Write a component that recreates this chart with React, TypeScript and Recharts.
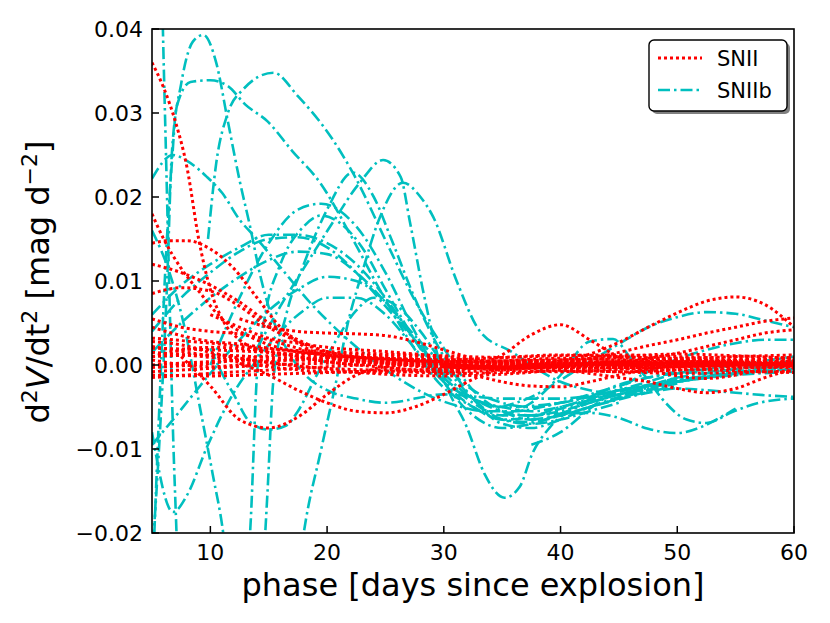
import { LineChart, Line, XAxis, YAxis } from "recharts";

type Pt = [number, number];

const phaseTicks = [10, 20, 30, 40, 50, 60];
const slopeTicks = [-0.02, -0.01, 0, 0.01, 0.02, 0.03, 0.04];

// SNIIb: steep curves at early phase
const snIIbEarly: Pt[][] = [
  [[5.5, 0.07], [5.9, 0.042], [6.2, 0.025], [6.5, 0.008], [6.8, -0.008], [7.1, -0.02], [7.4, -0.032]],
  [[5.1, -0.021], [5.6, -0.01], [6.3, 0.01], [6.7, 0.0252], [7.5, 0.0335], [8.5, 0.0385], [9.4, 0.0393], [10.5, 0.036], [11.5, 0.029], [12.5, 0.022], [13.4, 0.0165], [14.3, 0.0105], [15, 0.0069], [16.5, 0.002], [18, -0.001], [20, -0.003], [22.5, -0.004], [25, -0.0045], [30, -0.0035], [35, -0.004], [40, -0.004], [45, -0.003], [50, -0.002], [55, -0.001], [60, 0]],
  [[5.2, -0.02], [5.6, -0.006], [6.2, 0.013], [6.7, 0.024], [7.1, 0.0307], [8.3, 0.0337], [10, 0.0339], [11.5, 0.0332], [13, 0.031], [14.9, 0.029], [17, 0.0255], [19.4, 0.0217], [22, 0.0155], [24.5, 0.009], [27, 0.003], [29.5, -0.002], [32.5, -0.005], [35, -0.0065], [37.5, -0.0062], [40, -0.0052], [42.5, -0.0042], [45, -0.0032], [47.5, -0.0024], [50, -0.0018], [55, -0.001]],
  [[5, 0.0222], [6.8, 0.025], [8, 0.0243], [9.7, 0.0224], [11, 0.0205], [12.5, 0.0173], [14, 0.015], [16.2, 0.0113], [18.5, 0.0075], [21, 0.004], [23.5, 0.001], [26, -0.0015], [28.5, -0.0035], [31, -0.0048], [33.5, -0.0055], [36, -0.0055], [40, -0.0045], [45, -0.003], [50, -0.0018], [55, -0.0008], [60, 0]],
  [[5, -0.008], [6.8, -0.0175], [8, -0.0155], [9.7, -0.0098], [12, -0.0033], [14, 0.0006], [16, 0.004], [18, 0.0065], [20, 0.008], [22.5, 0.008], [25, 0.006], [27.5, 0.002], [30, -0.002], [32.5, -0.004], [35, -0.005], [40, -0.0045], [45, -0.003], [50, -0.002], [55, -0.001], [60, 0.0005]],
  [[5, -0.0095], [6.5, -0.007], [10, -0.001], [12.5, 0.003], [15, 0.0065], [17.5, 0.009], [20, 0.0105], [22.5, 0.01], [25, 0.0075], [27.5, 0.003], [30, -0.0015], [32.5, -0.0045], [35, -0.006], [37.5, -0.006], [40, -0.005], [45, -0.0035], [50, -0.002], [55, -0.001], [60, -0.0005]],
  [[5, 0.016], [6.5, 0.011], [7.7, 0.005], [9.1, -0.005], [10.2, -0.013], [11.1, -0.02], [11.6, -0.026]],
];

// SNIIb: humps peaking between phase 15 and 27
const snIIbPeaks: Pt[][] = [
  [[9.8, 0.015], [10.5, 0.024], [11.5, 0.03], [12.8, 0.0328], [15.4, 0.0348], [17.5, 0.032], [20.5, 0.0268], [22.2, 0.0229], [25.4, 0.0137], [27.4, 0.008], [30, 0.002], [32.5, -0.003], [35, -0.0055], [37.5, -0.0065], [40, -0.006], [42.5, -0.005], [45, -0.004], [47.5, -0.0032], [50, -0.0025]],
  [[14, 0.002], [16, 0.007], [18, 0.0115], [20.5, 0.017], [22.8, 0.0217], [24.8, 0.0244], [26.3, 0.0224], [27.1, 0.017], [28.2, 0.009], [30, -0.0015], [32, -0.0075], [33.5, -0.013], [35.2, -0.0158], [36.5, -0.0145], [37.6, -0.0105], [39.1, -0.0074], [42, -0.0045], [44.5, -0.0026], [47.5, -0.0015], [50, -0.0008], [52.5, -0.0004]],
  [[17.5, -0.025], [18, -0.02], [19.5, -0.01], [20.8, -0.0018], [21.7, 0.0045], [23, 0.011], [24.5, 0.0175], [26.5, 0.0217], [28, 0.02], [29.1, 0.0176], [31.1, 0.01], [33.1, 0.004], [35.9, 0.0015], [38, -0.0005], [40, -0.002], [42.5, -0.003], [45, -0.0035], [47.5, -0.003], [50, -0.002], [55, -0.001], [60, -0.0005]],
  [[14.5, -0.025], [14.9, -0.015], [15.4, -0.0018], [16.5, 0.006], [18, 0.012], [20, 0.0185], [22.2, 0.0229], [24, 0.02], [25.5, 0.015], [27.5, 0.008], [30, 0.001], [32.5, -0.004], [35, -0.007], [37.5, -0.0075], [40, -0.0065], [42.5, -0.005], [45, -0.0038], [47.5, -0.0028], [50, -0.002], [55, -0.0012], [60, -0.0008]],
  [[13.1, -0.025], [13.4, -0.02], [14, -0.001], [14.7, 0.006], [16, 0.012], [18, 0.0165], [19.5, 0.0178], [21, 0.017], [23, 0.014], [25, 0.009], [27.5, 0.003], [30, -0.002], [32.5, -0.005], [35, -0.0065], [37.5, -0.0068], [40, -0.006], [42.5, -0.005], [45, -0.004], [47.5, -0.003], [50, -0.0022]],
  [[5, 0.004], [7.5, 0.008], [10, 0.011], [12.5, 0.0135], [15, 0.015], [17.5, 0.0152], [20, 0.014], [22.5, 0.011], [25, 0.007], [27.5, 0.003], [30, -0.001], [32.5, -0.004], [35, -0.005], [37.5, -0.0055], [40, -0.005], [42.5, -0.004], [45, -0.003], [47.5, -0.002], [50, -0.001], [52.5, -0.0005], [55, 0], [57.5, 0.0005], [60, 0.001]],
  [[5, 0.0015], [7.5, 0.005], [10, 0.008], [12.5, 0.0105], [15, 0.0125], [17.5, 0.0135], [20, 0.0132], [22.5, 0.011], [25, 0.0075], [27.5, 0.0035], [30, 0], [32.5, -0.003], [35, -0.0045], [37.5, -0.005], [40, -0.0045], [42.5, -0.0035], [45, -0.0025], [47.5, -0.0015], [50, -0.001], [52.5, -0.0008], [55, -0.0005], [57.5, 0], [60, 0.0005]],
  [[5, 0.006], [7.5, 0.0095], [10, 0.012], [12.5, 0.014], [15, 0.0155], [17.5, 0.0155], [20, 0.0145], [22.5, 0.012], [25, 0.008], [27.5, 0.003], [30, -0.0015], [32.5, -0.004], [35, -0.0055], [37.5, -0.006], [40, -0.0055], [42.5, -0.0045], [45, -0.0035], [47.5, -0.0025], [50, -0.0015], [52.5, -0.001], [55, -0.0005], [57.5, 0], [60, 0]],
  [[10, 0], [12.5, 0.008], [15, 0.0145], [17.5, 0.0185], [19.5, 0.0192], [22.5, 0.0165], [25, 0.011], [27.5, 0.004], [30, -0.002], [32.5, -0.006], [35, -0.0075], [37.5, -0.007], [40, -0.0058], [42.5, -0.0045], [45, -0.0035], [47.5, -0.0025], [50, -0.0015]],
  [[10, 0.002], [11, -0.001], [12, -0.0035], [13.4, -0.0068], [15, -0.0077], [16.5, -0.0072], [17.5, -0.0055], [19, -0.0015], [20.8, 0.003], [22.5, 0.0065], [24, 0.008], [26, 0.007], [28, 0.004], [30, 0], [32.5, -0.004], [35, -0.0065], [37.5, -0.007], [40, -0.0065], [42.5, -0.0055], [45, -0.0045]],
];

// SNIIb: late-phase wiggles
const snIIbLate: Pt[][] = [
  [[35, -0.005], [37.5, -0.0038], [40, -0.0018], [42.5, 0.0004], [45, 0.0025], [47.5, 0.0045], [50, 0.0057], [52.5, 0.0063], [55, 0.0061], [57.5, 0.0053], [60, 0.0045]],
  [[35, -0.006], [37.5, -0.0045], [40, -0.0012], [42.5, 0.0028], [44.5, 0.0031], [46, 0.0008], [47.5, -0.0018], [49, -0.0045], [50.8, -0.0065], [52.5, -0.0069], [54.7, -0.0056], [57, -0.0045], [60, -0.004]],
  [[37.5, -0.006], [40, -0.0058], [42.5, -0.0057], [45, -0.0063], [47.5, -0.0076], [50, -0.0081], [52, -0.0074], [54, -0.006], [55, -0.0052]],
  [[37.5, -0.0095], [40, -0.008], [42.5, -0.0052], [45, -0.0028], [47.5, -0.0008], [50, 0.0007], [52.5, 0.0018], [55, 0.0026], [57.5, 0.003], [60, 0.003]],
  [[37.5, -0.0065], [40, -0.006], [42.5, -0.005], [45, -0.0041], [47.5, -0.0033], [50, -0.0028], [52.5, -0.003], [55, -0.0033], [57.5, -0.0036], [60, -0.0038]],
];

// SNII: curves that start high and decay
const snIIEarly: Pt[][] = [
  [[5, 0.036], [6, 0.033], [7, 0.029], [8, 0.0235], [9, 0.015], [10, 0.009], [11, 0.0055], [12.5, 0.003], [15, 0.0015], [20, 0.0007], [25, 0.0004], [30, 0.0002], [35, 0.0004], [40, 0.0006], [45, 0.0003], [50, 0.0001], [55, 0.0003], [60, 0.0005]],
  [[5, 0.018], [6, 0.015], [7.5, 0.0115], [9, 0.0088], [11, 0.0055], [13.5, 0.0033], [16, 0.002], [20, 0.0012], [25, 0.0008], [30, 0.0006], [35, 0.0009], [40, 0.0012], [45, 0.001], [50, 0.0008], [55, 0.001], [60, 0.0012]],
  [[5, 0.0145], [6.5, 0.0148], [8, 0.0148], [10, 0.0138], [12, 0.0115], [14, 0.008], [16, 0.0045], [18, 0.0022], [20, 0.001], [22.5, 0.0004], [25, 0.0002], [30, -0.0002], [35, -0.0006], [40, -0.0008], [45, -0.0005], [50, -0.0002], [55, 0], [60, 0.0003]],
  [[5, 0.012], [7.5, 0.011], [10, 0.0095], [12.5, 0.0075], [15, 0.005], [17.5, 0.003], [20, 0.0016], [25, 0.0006], [30, 0.0001], [35, -0.0002], [40, 0], [45, 0.0004], [50, 0.0006], [55, 0.0004], [60, 0.0001]],
  [[5, 0.0085], [7.5, 0.0092], [10, 0.0088], [12.5, 0.007], [15, 0.0045], [17.5, 0.0028], [20, 0.0015], [25, 0.0005], [30, -0.0001], [35, -0.0003], [40, -0.0002], [45, 0], [50, 0.0003], [55, 0.0006], [60, 0.0008]],
  [[7.5, 0.001], [10, -0.0025], [12.5, -0.0065], [15, -0.0075], [17.5, -0.0062], [20, -0.0035], [22.5, -0.0012], [25, -0.0002], [30, 0.0003], [35, 0.0002], [40, -0.0001], [45, -0.0003], [50, -0.0001], [55, 0.0002], [60, 0.0001]],
  [[12.5, 0.0002], [15, -0.0012], [17.5, -0.003], [20, -0.0045], [22.5, -0.0055], [25, -0.0057], [27.5, -0.005], [30, -0.0035], [32.5, -0.0017], [35, -0.0004], [40, 0.0002], [45, 0], [50, -0.0002], [55, 0], [60, 0.0002]],
  [[10, 0.006], [12.5, 0.0045], [15, 0.0032], [17.5, 0.0026], [20, 0.0021], [25, 0.0016], [30, 0.001], [35, 0.0002], [40, -0.0004], [45, -0.0008], [50, -0.0006], [55, -0.0001], [60, 0.0005]],
  [[12.5, 0.0055], [15, 0.0045], [17.5, 0.004], [20, 0.0038], [22.5, 0.0037], [25, 0.0035], [27.5, 0.0028], [30, 0.0018], [32.5, 0.0008], [35, 0.0002], [40, -0.0002], [45, 0.0002], [50, 0.0004], [55, 0.0003], [60, 0]],
];

// SNII: the dense band around zero
const snIIBand: Pt[][] = [
  [[5, 0.001], [10, 0.0012], [15, 0.0009], [20, 0.0006], [25, 0.0005], [30, 0.0003], [35, 0.0002], [40, 0.0003], [45, 0.0004], [50, 0.0002], [55, 0.0003], [60, 0.0001]],
  [[5, 0], [10, 0.0004], [15, 0.0006], [20, 0.0005], [25, 0.0003], [30, 0.0001], [35, -0.0002], [40, -0.0003], [45, -0.0002], [50, 0], [55, 0.0002], [60, 0.0003]],
  [[5, -0.0008], [10, -0.0004], [15, 0], [20, 0.0002], [25, 0], [30, -0.0002], [35, -0.0004], [40, -0.0003], [45, -0.0001], [50, 0.0001], [55, 0], [60, -0.0002]],
  [[5, 0.002], [10, 0.0018], [15, 0.0015], [20, 0.001], [25, 0.0008], [30, 0.0006], [35, 0.0005], [40, 0.0006], [45, 0.0008], [50, 0.0007], [55, 0.0005], [60, 0.0006]],
  [[5, 0.0028], [7.5, 0.0024], [10, 0.0015], [15, 0.0003], [20, -0.0004], [25, -0.0006], [30, -0.0005], [35, -0.0003], [40, 0], [45, 0.0003], [50, 0.0004], [55, 0.0002], [60, 0]],
  [[5, -0.0015], [10, -0.001], [15, -0.0006], [20, -0.0002], [25, 0.0001], [30, 0.0002], [35, 0.0001], [40, -0.0001], [45, -0.0004], [50, -0.0006], [55, -0.0004], [60, -0.0001]],
  [[5, 0.0045], [7.5, 0.0035], [10, 0.0028], [12.5, 0.0025], [15, 0.002], [20, 0.0012], [25, 0.0007], [30, 0.0004], [35, 0.0005], [40, 0.0008], [45, 0.0006], [50, 0.0003], [55, 0.0001], [60, 0.0002]],
  [[5, 0.001], [10, 0.0021], [15, 0.0016], [20, 0.0004], [25, -0.0003], [30, -0.0008], [35, -0.0006], [40, -0.0001], [45, 0.0002], [50, 0.0001], [55, -0.0002], [60, -0.0003]],
  [[5, -0.0003], [10, 0.0002], [15, 0.0011], [20, 0.0014], [25, 0.001], [30, 0.0004], [35, -0.0001], [40, -0.0002], [45, 0], [50, 0.0003], [55, 0.0005], [60, 0.0004]],
  [[5, 0.0055], [7.5, 0.0045], [10, 0.004], [12.5, 0.0037], [15, 0.003], [17.5, 0.002], [20, 0.0012], [25, 0.0003], [30, -0.0002], [35, -0.0004], [40, -0.0002], [45, 0.0001], [50, 0.0002], [55, 0.0001], [60, 0]],
  [[5, 0.0015], [10, 0.0009], [15, -0.0002], [20, -0.0008], [25, -0.0009], [30, -0.0006], [35, -0.0002], [40, 0.0001], [45, 0.0001], [50, -0.0001], [55, -0.0003], [60, -0.0002]],
  [[5, 0.0032], [10, 0.0026], [15, 0.0019], [20, 0.0016], [25, 0.0013], [30, 0.0011], [35, 0.0009], [40, 0.0011], [45, 0.0012], [50, 0.001], [55, 0.0008], [60, 0.0009]],
  [[5, -0.0012], [10, -0.0013], [15, -0.0011], [20, -0.0009], [25, -0.0007], [30, -0.001], [35, -0.0009], [40, -0.0007], [45, -0.0008], [50, -0.001], [55, -0.0009], [60, -0.0007]],
  [[5, 0.0006], [10, -0.0002], [15, 0.0004], [20, 0.0009], [25, 0.0012], [30, 0.0008], [35, 0.0003], [40, 0.0005], [45, 0.001], [50, 0.0013], [55, 0.0011], [60, 0.0008]],
  [[5, 0.0022], [10, 0.0011], [15, 0.0003], [20, -0.0005], [25, -0.0011], [30, -0.0013], [35, -0.0011], [40, -0.0006], [45, -0.0003], [50, -0.0004], [55, -0.0007], [60, -0.0009]],
];

// SNII: late-phase bumps
const snIILate: Pt[][] = [
  [[25, -0.0002], [30, -0.0008], [32.5, -0.0002], [35, 0.0012], [37.5, 0.0036], [40, 0.0048], [42.5, 0.003], [45, 0.0009], [47.5, -0.0005], [50, -0.0013], [52.5, -0.0016], [55, -0.0012], [57.5, -0.0004], [60, 0.0004]],
  [[30, 0.0002], [35, -0.0003], [37.5, -0.0001], [40, 0.0005], [42.5, 0.0013], [45, 0.0027], [47.5, 0.0045], [50, 0.0062], [52.5, 0.0076], [55, 0.0081], [57.5, 0.0072], [60, 0.0045]],
  [[30, -0.0002], [35, 0], [40, 0.0002], [42.5, 0.0008], [45, 0.0015], [47.5, 0.0023], [50, 0.003], [52.5, 0.0038], [55, 0.0045], [57.5, 0.0052], [60, 0.0056]],
  [[30, 0.0003], [40, 0.0004], [45, 0.0003], [47.5, 0.0008], [50, 0.0014], [52.5, 0.0022], [55, 0.003], [57.5, 0.0038], [60, 0.0042]],
  [[30, 0], [35, -0.0003], [40, -0.0006], [42.5, -0.001], [45, -0.0015], [47.5, -0.002], [50, -0.0028], [52.5, -0.0033], [55, -0.0028], [57.5, -0.0015], [60, -0.0005]],
  [[25, 0.0002], [30, -0.0006], [32.5, -0.0012], [35, -0.002], [37.5, -0.0025], [40, -0.0026], [42.5, -0.002], [45, -0.0012], [47.5, -0.0005], [50, 0], [55, 0.0002], [60, -0.0001]],
];

const PLOT = { left: 152, right: 794, top: 29, bottom: 533 };
const FONT = "'DejaVu Sans', sans-serif";
const RED = "#ff0000";
const CYAN = "#00bfbf";

const fmt = (v: number) => (v < 0 ? "\u2212" + Math.abs(v).toFixed(2) : v.toFixed(2));

function XTick(props: any) {
  const { x, payload } = props;
  return (
    <g>
      <line x1={x} x2={x} y1={PLOT.bottom} y2={PLOT.bottom - 7} stroke="#000" strokeWidth={1.5} />
      <text x={x} y={PLOT.bottom + 27} textAnchor="middle" fontSize={22} fontFamily={FONT} fill="#000">
        {payload.value}
      </text>
    </g>
  );
}

function YTick(props: any) {
  const { y, payload } = props;
  return (
    <g>
      <line x1={PLOT.left} x2={PLOT.left + 7} y1={y} y2={y} stroke="#000" strokeWidth={1.5} />
      <text x={PLOT.left - 9} y={y + 8} textAnchor="end" fontSize={22} fontFamily={FONT} fill="#000">
        {fmt(payload.value)}
      </text>
    </g>
  );
}

const toRows = (c: Pt[]) => c.map(([phase, v]) => ({ phase, v }));

export default function App() {
  const cyan = [...snIIbEarly, ...snIIbPeaks, ...snIIbLate];
  const red = [...snIIEarly, ...snIIBand, ...snIILate];
  return (
    <div style={{ position: "absolute", left: 0, top: 0, width: 830, height: 623, background: "#fff" }}>
      <LineChart width={830} height={623} margin={{ top: PLOT.top, right: 830 - PLOT.right, bottom: 0, left: 0 }}>
        <XAxis
          type="number"
          dataKey="phase"
          domain={[5, 60]}
          allowDataOverflow
          ticks={phaseTicks}
          height={623 - PLOT.bottom}
          axisLine={false}
          tickLine={false}
          tick={<XTick />}
        />
        <YAxis
          type="number"
          domain={[-0.02, 0.04]}
          allowDataOverflow
          ticks={slopeTicks}
          width={PLOT.left}
          axisLine={false}
          tickLine={false}
          tick={<YTick />}
        />
        {cyan.map((c, i) => (
          <Line
            key={"b" + i}
            data={toRows(c)}
            dataKey="v"
            type="monotone"
            stroke={CYAN}
            strokeWidth={2.6}
            strokeDasharray="12 4 2.5 4"
            dot={false}
            activeDot={false}
            isAnimationActive={false}
          />
        ))}
        {red.map((c, i) => (
          <Line
            key={"r" + i}
            data={toRows(c)}
            dataKey="v"
            type="monotone"
            stroke={RED}
            strokeWidth={3}
            strokeDasharray="3 3"
            dot={false}
            activeDot={false}
            isAnimationActive={false}
          />
        ))}
      </LineChart>
      <svg
        width={830}
        height={623}
        style={{ position: "absolute", left: 0, top: 0, pointerEvents: "none" }}
        fontFamily={FONT}
      >
        <rect
          x={PLOT.left}
          y={PLOT.top}
          width={PLOT.right - PLOT.left}
          height={PLOT.bottom - PLOT.top}
          fill="none"
          stroke="#000"
          strokeWidth={1.6}
        />
        <g>
          <rect x={652} y={43} width={138} height={71} rx={5} fill="#808080" />
          <rect x={649} y={40} width={138} height={71} rx={5} fill="#fff" stroke="#000" strokeWidth={1.4} />
          <line x1={658} x2={702} y1={58} y2={58} stroke={RED} strokeWidth={3} strokeDasharray="3 3" />
          <text x={717} y={66} fontSize={21} fill="#000">SNII</text>
          <line x1={658} x2={702} y1={90} y2={90} stroke={CYAN} strokeWidth={2.6} strokeDasharray="12 4 2.5 4" />
          <text x={717} y={98} fontSize={21} fill="#000">SNIIb</text>
        </g>
        <text x={(PLOT.left + PLOT.right) / 2} y={596} textAnchor="middle" fontSize={32} fill="#000">
          phase [days since explosion]
        </text>
        <text transform="translate(49,282) rotate(-90)" textAnchor="middle" fontSize={32} fill="#000">
          d<tspan dy={-12} fontSize={22}>2</tspan>
          <tspan dy={12} fontStyle="italic">V</tspan>/dt<tspan dy={-12} fontSize={22}>2</tspan>
          <tspan dy={12}> [mag d</tspan>
          <tspan dy={-12} fontSize={22}>{"\u22122"}</tspan>
          <tspan dy={12}>]</tspan>
        </text>
      </svg>
    </div>
  );
}
